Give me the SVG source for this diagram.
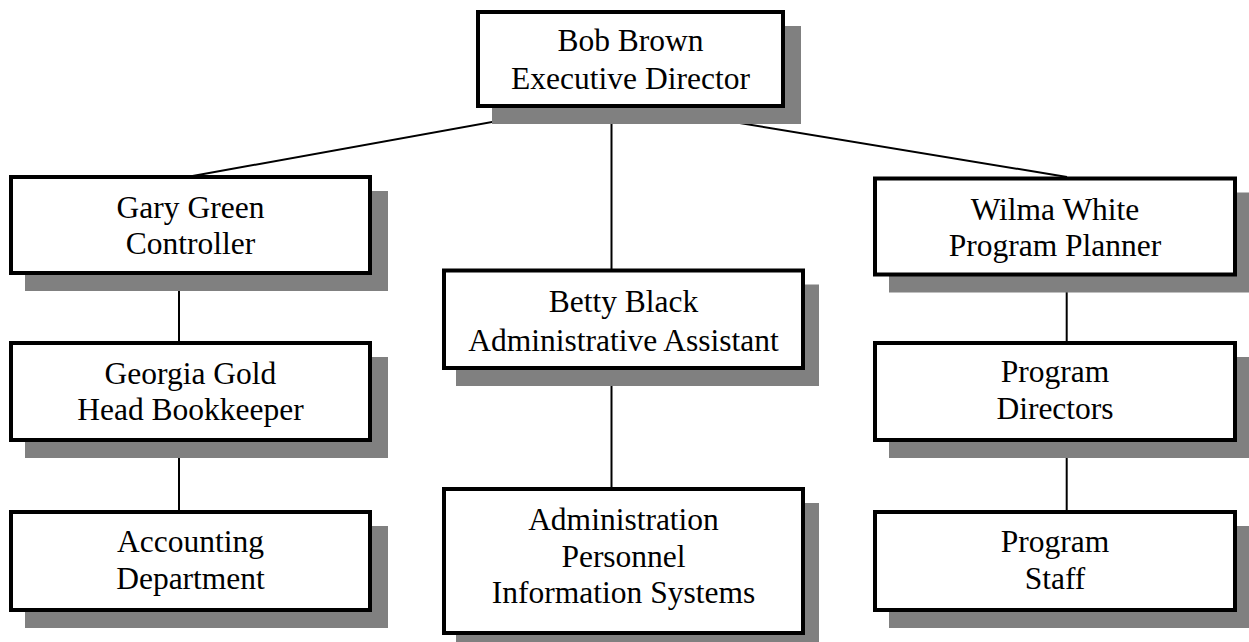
<svg xmlns="http://www.w3.org/2000/svg" width="1249" height="642" viewBox="0 0 1249 642">
<style>
.sh{fill:#808080;stroke:none}
.bx{fill:#fff;stroke:#000;stroke-width:4}
.ln{stroke:#000;stroke-width:2;fill:none}
text{font-family:"Liberation Serif","Times New Roman",serif;font-size:31.5px;fill:#000;text-anchor:middle}
</style>
<rect width="1249" height="642" fill="#fff"/>
<g id="connectors">
<line class="ln" x1="570" y1="108" x2="187" y2="177"/>
<line class="ln" x1="648" y1="108" x2="1067" y2="177"/>
<line class="ln" x1="611.5" y1="108" x2="611.5" y2="270"/>
<line class="ln" x1="179" y1="275" x2="179" y2="343"/>
<line class="ln" x1="179" y1="441" x2="179" y2="512"/>
<line class="ln" x1="611.5" y1="370" x2="611.5" y2="489"/>
<line class="ln" x1="1066.7" y1="276" x2="1066.7" y2="343"/>
<line class="ln" x1="1066.7" y1="441" x2="1066.7" y2="512"/>
</g>
<g id="bob">
<rect class="sh" x="492" y="26" width="309" height="98"/>
<rect class="bx" x="478" y="12" width="305" height="94"/>
<text x="630.5" y="51">Bob Brown</text>
<text x="630.5" y="89">Executive Director</text>
</g>
<g id="gary">
<rect class="sh" x="25" y="191" width="363" height="100"/>
<rect class="bx" x="11" y="177" width="359" height="96"/>
<text x="190.5" y="217.5">Gary Green</text>
<text x="190.5" y="253.5">Controller</text>
</g>
<g id="georgia">
<rect class="sh" x="25" y="357" width="363" height="101"/>
<rect class="bx" x="11" y="343" width="359" height="97"/>
<text x="190.5" y="383.5">Georgia Gold</text>
<text x="190.5" y="420">Head Bookkeeper</text>
</g>
<g id="accounting">
<rect class="sh" x="25" y="526" width="363" height="102"/>
<rect class="bx" x="11" y="512" width="359" height="98"/>
<text x="190.5" y="552">Accounting</text>
<text x="190.5" y="588.5">Department</text>
</g>
<g id="betty">
<rect class="sh" x="456" y="284.5" width="363" height="101.5"/>
<rect class="bx" x="444" y="270.5" width="359" height="97.5"/>
<text x="623.5" y="312">Betty Black</text>
<text x="623.5" y="350.5">Administrative Assistant</text>
</g>
<g id="admin">
<rect class="sh" x="456" y="503" width="363" height="148"/>
<rect class="bx" x="444" y="489" width="359" height="144"/>
<text x="623.5" y="530">Administration</text>
<text x="623.5" y="566.5">Personnel</text>
<text x="623.5" y="603">Information Systems</text>
</g>
<g id="wilma">
<rect class="sh" x="889" y="192.5" width="364" height="100"/>
<rect class="bx" x="875" y="178.5" width="360" height="96"/>
<text x="1055" y="220">Wilma White</text>
<text x="1055" y="256">Program Planner</text>
</g>
<g id="directors">
<rect class="sh" x="889" y="357" width="364" height="101"/>
<rect class="bx" x="875" y="343" width="360" height="97"/>
<text x="1055" y="382">Program</text>
<text x="1055" y="418.5">Directors</text>
</g>
<g id="staff">
<rect class="sh" x="889" y="526" width="364" height="102"/>
<rect class="bx" x="875" y="512" width="360" height="98"/>
<text x="1055" y="552">Program</text>
<text x="1055" y="588.5">Staff</text>
</g>
</svg>
